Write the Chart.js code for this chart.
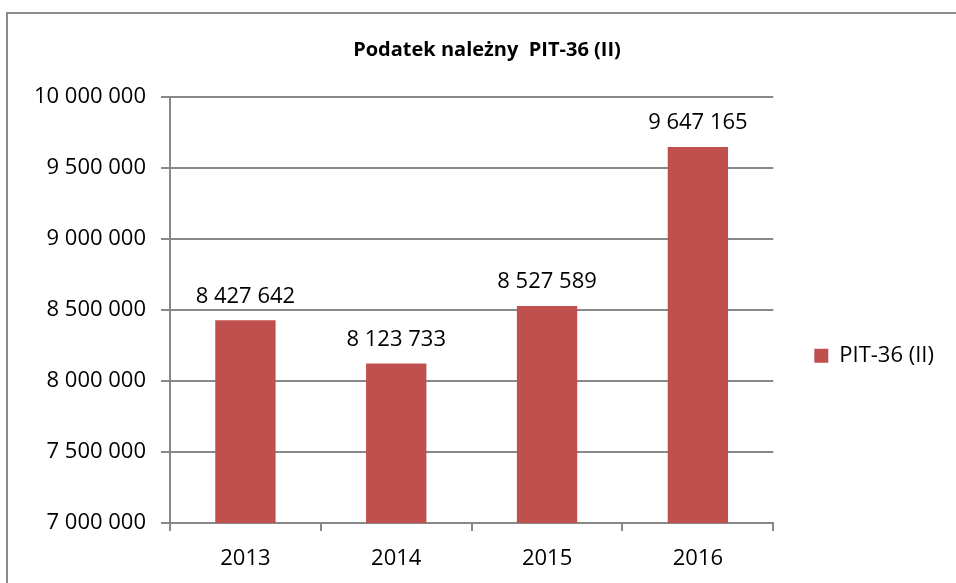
<!DOCTYPE html>
<html>
<head>
<meta charset="utf-8">
<script src="https://cdn.jsdelivr.net/npm/chart.js@4.4.0/dist/chart.umd.min.js"></script>
<style>
    html, body { margin: 0; padding: 0; background: #fff; overflow: hidden; }
    #wrap { position: relative; width: 956px; height: 583px; }
    #frame {
        position: absolute; left: 6px; top: 12px; width: 1200px; height: 1200px;
        border-left: 2px solid #8c8c8c; border-top: 2px solid #8c8c8c;
    }
    canvas { position: absolute; left: 0; top: 0; }
</style>
</head>
<body>
<div id="wrap">
    <div id="frame"></div>
    <canvas id="chart" width="956" height="583"></canvas>
</div>
<script>
const years = [`2013`, `2014`, `2015`, `2016`];
const taxValues = [8427642, 8123733, 8527589, 9647165];
const seriesName = `PIT-36 (II)`;
const chartTitle = `Podatek należny  PIT-36 (II)`;

const barColor = `#c0504d`;
const lineColor = `#888888`;
const fontFamily = `"Open Sans", sans-serif`;

// polish style thousands: 8 427 642
const withSpaces = function (value) {
    return String(Math.round(value)).replace(/\B(?=(\d{3})+(?!\d))/g, ` `);
};

// value labels above each bar
const valueLabels = {
    id: `valueLabels`,
    afterDatasetsDraw(chart) {
        const ctx = chart.ctx;
        ctx.save();
        ctx.font = `22px ${fontFamily}`;
        ctx.fillStyle = `#000`;
        ctx.textAlign = `center`;
        ctx.textBaseline = `bottom`;
        chart.getDatasetMeta(0).data.forEach((bar, i) => {
            ctx.fillText(withSpaces(taxValues[i]), bar.x, bar.y - 13);
        });
        ctx.restore();
    },
};

new Chart(document.getElementById(`chart`), {
    type: `bar`,
    data: {
        labels: years,
        datasets: [{
            label: seriesName,
            data: taxValues,
            backgroundColor: barColor,
            categoryPercentage: 1,
            barPercentage: 0.4,
        }],
    },
    options: {
        responsive: false,
        animation: false,
        layout: { padding: { left: 30, right: 12, top: 0, bottom: 0 } },
        plugins: {
            title: {
                display: true,
                text: chartTitle,
                color: `#000`,
                font: { family: fontFamily, size: 20, weight: `bold` },
                padding: { top: 38, bottom: 35 },
            },
            legend: {
                display: true,
                position: `right`,
                align: `center`,
                // empty title only pushes the entry down a bit
                title: { display: true, text: ``, padding: 57 },
                labels: {
                    color: `#000`,
                    boxWidth: 14,
                    boxHeight: 14,
                    padding: 41,
                    font: { family: fontFamily, size: 22 },
                },
            },
            tooltip: { enabled: false },
        },
        scales: {
            x: {
                offset: true,
                grid: {
                    offset: true,
                    drawOnChartArea: false,
                    color: lineColor,
                    lineWidth: 2,
                    tickLength: 8,
                },
                border: { color: lineColor, width: 2 },
                ticks: {
                    color: `#000`,
                    padding: 15,
                    font: { family: fontFamily, size: 22 },
                },
                afterFit(scale) { scale.height = 60; },
            },
            y: {
                min: 7000000,
                max: 10000000,
                grid: {
                    color: lineColor,
                    lineWidth: 2,
                    tickLength: 9,
                },
                border: { color: lineColor, width: 2 },
                ticks: {
                    stepSize: 500000,
                    color: `#000`,
                    padding: 15,
                    font: { family: fontFamily, size: 22 },
                    callback: value => withSpaces(value),
                },
                afterFit(scale) { scale.width = 140; },
            },
        },
    },
    plugins: [valueLabels],
});
</script>
</body>
</html>
